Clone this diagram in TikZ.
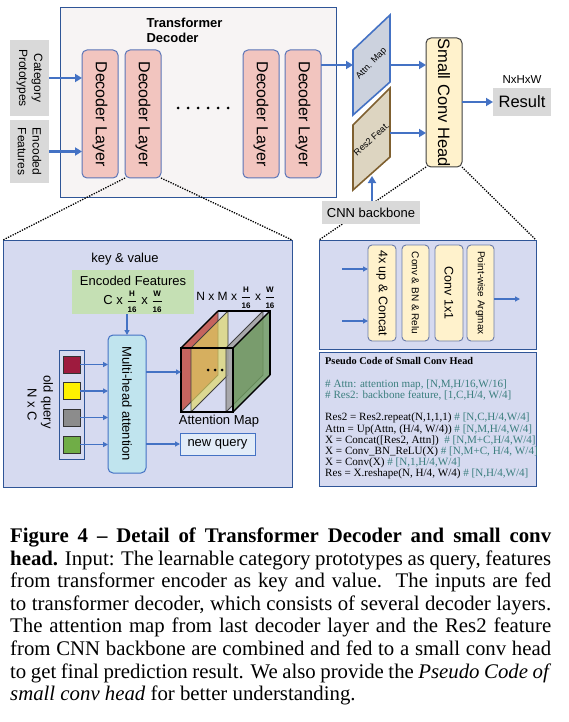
\documentclass[tikz,border=0pt]{standalone}
\usepackage{fontspec}
\setmainfont{Liberation Serif}
\setsansfont{Liberation Sans}
\usepackage{graphicx}
\usetikzlibrary{arrows.meta}
\definecolor{arrowblue}{HTML}{4472C4}
\definecolor{outerborder}{HTML}{2F5597}
\definecolor{outerfill}{HTML}{F7F4F4}
\definecolor{grayfill}{HTML}{D9D9D9}
\definecolor{decfill}{HTML}{F2C5BF}
\definecolor{decborder}{HTML}{5B75B8}
\definecolor{attnfill}{HTML}{CCD2DE}
\definecolor{resfill}{HTML}{DDD5C1}
\definecolor{resborder}{HTML}{7F6030}
\definecolor{headfill}{HTML}{FFF2CC}
\definecolor{headborder}{HTML}{404040}
\definecolor{panelfill}{HTML}{D6DAF0}
\definecolor{panelborder}{HTML}{2F5597}
\definecolor{greenbox}{HTML}{C5E0B4}
\definecolor{mhfill}{HTML}{C0E4EE}
\definecolor{newqfill}{HTML}{E2ECF8}
\definecolor{sqred}{HTML}{9E1B3E}
\definecolor{sqyellow}{HTML}{FFF100}
\definecolor{sqgray}{HTML}{8C8C8C}
\definecolor{sqgreen}{HTML}{70AD47}
\definecolor{slred}{HTML}{C5584F}
\definecolor{slyellow}{HTML}{E0D860}
\definecolor{slgray}{HTML}{A0A0A0}
\definecolor{slgreen}{HTML}{6E9A5E}
\definecolor{convborder}{HTML}{6A7BA8}
\definecolor{codeteal}{HTML}{3C7F7F}
\newcommand{\fsz}[2]{\fontsize{#1pt}{#2pt}\selectfont}
\newcommand{\frc}[2]{$\displaystyle\frac{\hbox{\sffamily\bfseries\fsz{8}{8}#1}}{\hbox{\sffamily\bfseries\fsz{8}{8}#2}}$}
\begin{document}
\begin{tikzpicture}[x=1pt,y=-1pt,font=\sffamily,
  box/.style={inner sep=0pt, outer sep=0pt},
  declayer/.style={box, draw=decborder, fill=decfill, rounded corners=5pt, line width=1pt, minimum width=36pt, minimum height=128pt},
  graybox/.style={box, fill=grayfill},
  vtext/.style={rotate=-90, align=center, inner sep=0pt},
  arr/.style={draw=arrowblue, line width=2.2pt, -{Triangle[length=7pt,width=8pt]}},
  sarr/.style={draw=arrowblue, line width=1.3pt, -{Triangle[length=5pt,width=5pt]}},
  dotline/.style={line width=1.3pt, dash pattern=on 1.3pt off 1.3pt},
  panel/.style={box, draw=panelborder, fill=panelfill, line width=1pt},
  convbox/.style={box, draw=convborder, fill=headfill, rounded corners=4pt, line width=0.9pt, minimum width=28pt, minimum height=96pt},
  slice/.style={draw=black!75, line width=0.8pt},
  cube/.style={draw=black, line width=1.3pt}
]
\useasboundingbox (0,0) rectangle (569,722);

% ---------- Transformer decoder ----------
\node[box, draw=outerborder, fill=outerfill, line width=1pt, minimum width=276pt, minimum height=189pt] (tdbox) at (198,102.5) {};
\node[anchor=west, align=left, font=\sffamily\bfseries\fsz{13}{15}] (tdtitle) at (143,30) {Transformer\\Decoder};

\node[graybox, minimum width=39pt, minimum height=76pt] (cp) at (29.5,78) {};
\node[vtext, font=\sffamily\fsz{12}{14}] (cpT1) at (37,78) {Category};
\node[vtext, font=\sffamily\fsz{12}{14}] (cpT2) at (22,78) {Prototypes};
\node[graybox, minimum width=39pt, minimum height=63pt] (ef) at (29.5,151.5) {};
\node[vtext, font=\sffamily\fsz{12}{14}] (efT1) at (37,151.5) {Encoded};
\node[vtext, font=\sffamily\fsz{12}{14}] (efT2) at (22,151.5) {Features};

\node[declayer] (dl1) at (100,114) {};
\node[declayer] (dl2) at (143,114) {};
\node[declayer] (dl3) at (261,114) {};
\node[declayer] (dl4) at (303,114) {};
\foreach \n in {dl1,dl2,dl3,dl4}{
  \node[vtext, font=\sffamily\fsz{16}{18}] (\n T) at (\n.center) {Decoder Layer};
}
\foreach \k in {0,...,5}{ \fill (178+10*\k,108) circle (1.5pt); }

\draw[arr] (cp.east) -- (cp.east -| dl1.west);
\draw[arr] (ef.east) -- (ef.east -| dl1.west);

% ---------- feature maps ----------
\coordinate (attnL) at (353,65);
\coordinate (attnR) at (390,65);
\coordinate (resR) at (390,133);
\coordinate (resB) at (372,176);
\draw[draw=arrowblue, fill=attnfill, line width=1.6pt] (353,50) -- (390,15) -- (390,82) -- (353,115) -- cycle;
\node[rotate=46, font=\sffamily\fsz{9}{10}] (attnT) at (371.5,64) {Attn. Map};
\draw[draw=resborder, fill=resfill, line width=1.6pt] (353,125) -- (390,88) -- (390,157) -- (353,190) -- cycle;
\node[rotate=42, font=\sffamily\fsz{9}{10}] (resT) at (371.5,139) {Res2 Feat.};

\node[box, draw=headborder, fill=headfill, rounded corners=5pt, line width=1pt, minimum width=36pt, minimum height=129pt] (sch) at (444,102.5) {};
\node[vtext, font=\sffamily\fsz{16.5}{18}] (schT) at (sch.center) {Small Conv Head};

\node[graybox, minimum width=58pt, minimum height=28pt, font=\sffamily\fsz{16.5}{18}] (res) at (522,102) {Result};
\node[font=\sffamily\fsz{11.5}{13}] (nhw) at (522,80) {NxHxW};

\draw[arr] (dl4.east |- attnL) -- (attnL);
\draw[arr] (attnR) -- (attnR -| sch.west);
\draw[arr] (resR) -- (resR -| sch.west);
\draw[arr] (sch.east |- res.west) -- (res.west);

% ---------- panels and dotted zoom lines ----------
\node[panel, minimum width=289pt, minimum height=247pt] (lp) at (147.5,363.5) {};
\node[panel, minimum width=217pt, minimum height=109pt] (rp) at (427.5,294.5) {};
\node[panel, minimum width=217pt, minimum height=134pt] (pc) at (427.5,419) {};
\draw[dotline] (dl2.south west) -- (lp.north west);
\draw[dotline] (dl2.south east) -- (lp.north east);
\draw[dotline] (sch.south west) -- (rp.north west);
\draw[dotline] (sch.south east) -- (rp.north east);

\node[graybox, minimum width=98pt, minimum height=23pt, font=\sffamily\fsz{13}{15}] (cnn) at (371,212.5) {CNN backbone};
\draw[arr] (cnn.north -| resB) -- (resB);

% ---------- left panel ----------
\node[font=\sffamily\fsz{13}{15}] (kv) at (125,259) {key \& value};
\node[box, fill=greenbox, minimum width=122pt, minimum height=44pt] (enc) at (133,292) {};
\node[font=\sffamily\fsz{13}{15}] (encT1) at (133,281) {Encoded Features};
\node[font=\sffamily\fsz{13}{15}] (encT2) at (133,302) {C x \frc{H}{16} x \frc{W}{16}};

\node[box, draw=arrowblue, fill=mhfill, rounded corners=5pt, line width=1pt, minimum width=38pt, minimum height=138pt] (mh) at (127,404) {};
\node[vtext, font=\sffamily\fsz{13}{15}] (mhT) at (mh.center) {Multi-head attention};
\draw[sarr] (enc.south -| mh.north) -- (mh.north);

\node[box, draw=panelborder, line width=1pt, minimum width=25pt, minimum height=109pt] (oq) at (71.5,404.5) {};
\node[vtext, font=\sffamily\fsz{13}{15}] (oqT1) at (47,402) {old query};
\node[vtext, font=\sffamily\fsz{13}{15}] (oqT2) at (32,405) {N x C};
\node[box, draw=black!80, fill=sqred, line width=0.9pt, minimum size=17pt] (s1) at (71.5,364.5) {};
\node[box, draw=black!80, fill=sqyellow, line width=0.9pt, minimum size=17pt] (s2) at (71.5,391) {};
\node[box, draw=black!80, fill=sqgray, line width=0.9pt, minimum size=17pt] (s3) at (71.5,417.5) {};
\node[box, draw=black!80, fill=sqgreen, line width=0.9pt, minimum size=17pt] (s4) at (71.5,444.5) {};
\foreach \s in {s1,s2,s3,s4}{ \draw[sarr] (\s.east) -- (\s.east -| mh.west); }

% attention map stack
\foreach \xo/\c/\o in {181/slred/0.9, 191/slyellow/0.65, 226/slgray/0.85, 233/slgreen/0.8}{
  \fill[\c, fill opacity=\o] (\xo,412) -- (\xo,348) -- (\xo+37,311) -- (\xo+37,375) -- cycle;
  \draw[slice] (\xo,412) -- (\xo,348) -- (\xo+37,311) -- (\xo+37,375) -- cycle;
}
\draw[cube] (181,348) rectangle (233,412);
\draw[cube] (218,311) -- (270,311) -- (270,375);
\draw[cube] (181,348) -- (218,311);
\draw[cube] (233,348) -- (270,311);
\draw[cube] (233,412) -- (270,375);
\coordinate (amL) at (181,372);
\foreach \k in {0,1,2}{ \fill (208+7*\k,370) circle (1.5pt); }
\node[font=\sffamily\fsz{12}{14}] (nmT) at (236,298) {N x M x \frc{H}{16} x \frc{W}{16}};
\node[font=\sffamily\fsz{13}{15}] (amT) at (219,421) {Attention Map};
\node[box, draw=arrowblue, fill=newqfill, line width=1pt, minimum width=75pt, minimum height=22pt, font=\sffamily\fsz{13}{15}] (nq) at (217.5,444) {new query};
\draw[sarr] (mh.east |- amL) -- (amL);
\draw[sarr] (mh.east |- nq.west) -- (nq.west);

% ---------- right upper panel ----------
\node[convbox] (c1) at (382,293) {};
\node[convbox, minimum width=27pt] (c2) at (415.5,293) {};
\node[convbox] (c3) at (449,293) {};
\node[convbox, minimum width=27pt] (c4) at (480.5,293) {};
\node[vtext, font=\sffamily\fsz{12.5}{14}] (c1T) at (c1.center) {4x up \& Concat};
\node[vtext, font=\sffamily\fsz{10}{12}] (c2T) at (c2.center) {Conv \& BN \& Relu};
\node[vtext, font=\sffamily\fsz{12.5}{14}] (c3T) at (c3.center) {Conv 1x1};
\node[vtext, font=\sffamily\fsz{10}{12}] (c4T) at (c4.center) {Point-wise Argmax};
\coordinate (in1) at (342,269);
\coordinate (in2) at (342,321);
\coordinate (out1) at (520,299);
\draw[sarr] (in1) -- (in1 -| c1.west);
\draw[sarr] (in2) -- (in2 -| c1.west);
\draw[sarr] (c4.east |- out1) -- (out1);

% ---------- pseudo code ----------
\node[anchor=north west, align=left, inner sep=0pt, font=\rmfamily\fsz{11.1}{11.2}] (code) at (325,357.5) {%
{\fsz{10.3}{11.2}\textbf{Pseudo Code of Small Conv Head}}\\
\mbox{}\\
\textcolor{codeteal}{\# Attn: attention map, [N,M,H/16,W/16]}\\
\textcolor{codeteal}{\# Res2: backbone feature, [1,C,H/4, W/4]}\\
\mbox{}\\
Res2 = Res2.repeat(N,1,1,1) \textcolor{codeteal}{\# [N,C,H/4,W/4]}\\
Attn = Up(Attn, (H/4, W/4)) \textcolor{codeteal}{\# [N,M,H/4,W/4]}\\
X = Concat([Res2, Attn])\ \ \textcolor{codeteal}{\# [N,M+C,H/4,W/4]}\\
X = Conv\_BN\_ReLU(X) \textcolor{codeteal}{\# [N,M+C, H/4, W/4]}\\
X = Conv(X) \textcolor{codeteal}{\# [N,1,H/4,W/4]}\\
Res = X.reshape(N, H/4, W/4) \textcolor{codeteal}{\# [N,H/4,W/4]}};

% ---------- caption ----------
\tikzset{capline/.style={anchor=base west, inner sep=0pt, font=\rmfamily\fsz{20.8}{22.6}}}
\node[capline] (cap1) at (10,542.5) {\makebox[541pt][s]{\textbf{Figure 4 -- Detail of Transformer Decoder and small conv}}};
\node[capline] (cap2) at (10,565.1) {\makebox[541pt][s]{\textbf{head.} Input: The learnable category prototypes as query, features}};
\node[capline] (cap3) at (10,587.7) {\makebox[541pt][s]{from transformer encoder as key and value.\ \ The inputs are fed}};
\node[capline] (cap4) at (10,610.3) {\makebox[541pt][s]{to transformer decoder, which consists of several decoder layers.}};
\node[capline] (cap5) at (10,632.9) {\makebox[541pt][s]{The attention map from last decoder layer and the Res2 feature}};
\node[capline] (cap6) at (10,655.5) {\makebox[541pt][s]{from CNN backbone are combined and fed to a small conv head}};
\node[capline] (cap7) at (10,678.1) {\makebox[541pt][s]{to get final prediction result. We also provide the \textit{Pseudo Code of}}};
\node[capline] (cap8) at (10,700.7) {\textit{small conv head} for better understanding.};
\end{tikzpicture}
\end{document}
